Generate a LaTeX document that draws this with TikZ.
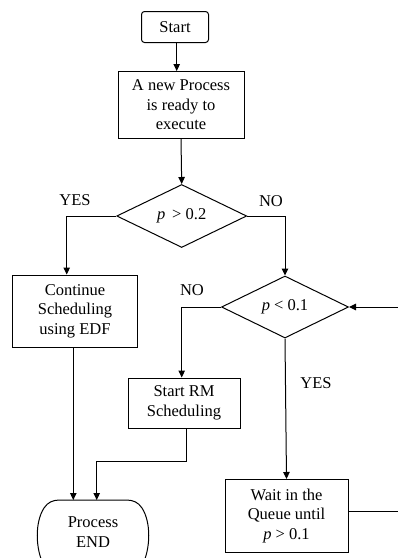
\documentclass[tikz,border=0pt]{standalone}
\usepackage{fontspec}
\setmainfont{Liberation Serif}
\usetikzlibrary{shapes.geometric,arrows.meta}
\begin{document}
\begin{tikzpicture}[x=1pt,y=-1pt,
  font=\fontsize{16.5}{19.5}\selectfont,
  line width=1pt,
  box/.style={draw,align=center,inner sep=1pt},
  dec/.style={draw,diamond,aspect=2,inner sep=0pt},
  arr/.style={-{Triangle[length=7pt,width=6.5pt]}},
  lab/.style={inner sep=0pt}]
\useasboundingbox (0,0) rectangle (398,558);
\node[box,rounded corners=3pt,minimum width=67pt,minimum height=31pt] (start) at (175,27) {Start};
\node[box,minimum width=126pt,minimum height=67pt] (proc) at (181,105) {A new Process\\is ready to\\execute};
\node[dec,minimum width=130pt,minimum height=63pt] (d1) at (181.7,216) {\textit{p}\, > 0.2};
\node[box,minimum width=125pt,minimum height=72pt] (edf) at (75,311) {Continue\\Scheduling\\using EDF};
\node[dec,minimum width=127pt,minimum height=62pt] (d2) at (285,307) {\textit{p} < 0.1};
\node[box,minimum width=112pt,minimum height=50pt] (rm) at (184,403) {Start RM\\Scheduling};
\node[box,minimum width=123pt,minimum height=73pt] (wait) at (286.5,516) {Wait in the\\Queue until\\\textit{p} > 0.1};
% END terminal
\draw (44,566) .. controls (35,548) and (35,522) .. (44,508)
  .. controls (48,502) and (53,500) .. (60,500) -- (126,500)
  .. controls (133,500) and (138,502) .. (142,508)
  .. controls (151,522) and (151,548) .. (142,566);
\coordinate (endtop) at (93,500);
\node[align=center] (endtxt) at (93,532) {Process\\END};
% labels
\node[lab] (yes1) at (75,200) {YES};
\node[lab] (no1) at (271,201) {NO};
\node[lab] (no2) at (192,290) {NO};
\node[lab] (yes2) at (316,383) {YES};
% connectors
\draw[arr] ([xshift=1.7pt]start.south) -- ([xshift=1.7pt]start.south |- proc.north);
\draw[arr] (proc.south) -- (d1.north);
\draw[arr] (d1.west) -| ([xshift=-8.3pt]edf.north);
\draw[arr] (d1.east) -| (d2.north);
\draw[arr] (d2.west) -| ([xshift=-2.3pt]rm.north);
\draw[arr] (d2.south) -- (wait.north);
\draw[arr] ([xshift=-1.7pt]edf.south) -- ([xshift=-1.7pt]edf.south |- endtop);
\coordinate (rmbend) at ([xshift=2.7pt]rm.south |- 0,461);
\draw[arr] ([xshift=2.7pt]rm.south) -- (rmbend) -| ([xshift=3.7pt]endtop);
\coordinate (loopA) at (404,511.7);
\coordinate (loopB) at (404,307);
\draw[arr] ([yshift=4.3pt]wait.east) -- (loopA) -- (loopB) -- (d2.east);
\end{tikzpicture}
\end{document}
